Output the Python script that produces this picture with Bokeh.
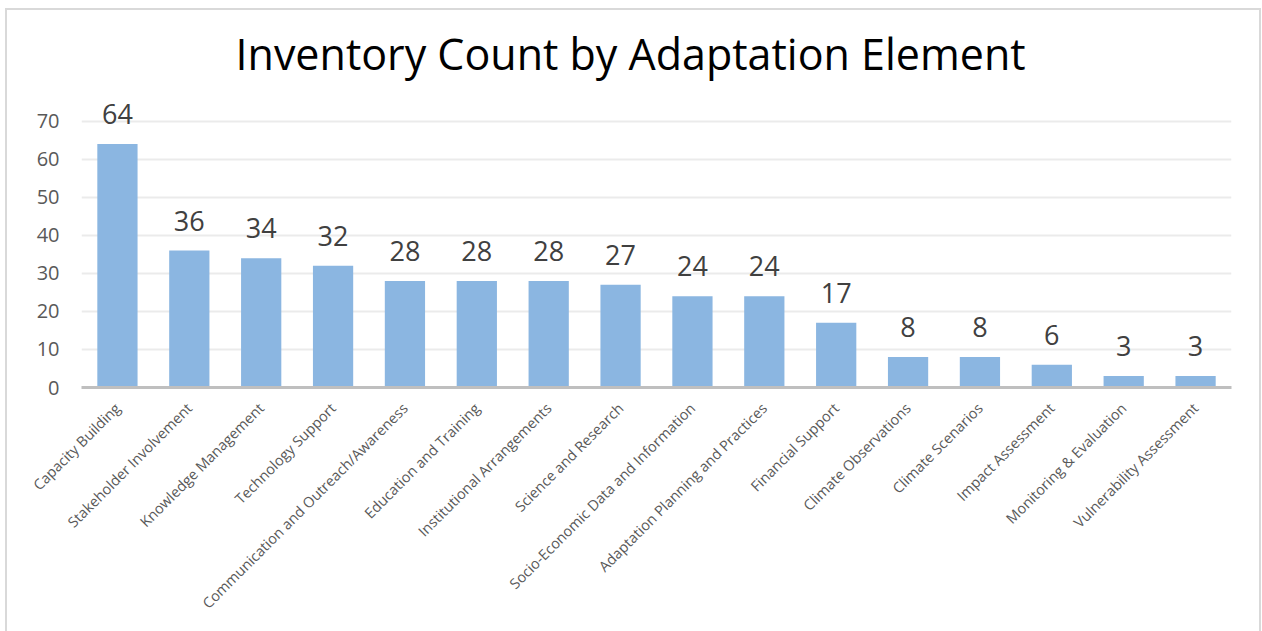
import math
from bokeh.plotting import figure
from bokeh.models import ColumnDataSource, LabelSet, Title
from bokeh.core.properties import value
from bokeh.embed import file_html
from bokeh.resources import INLINE

categories = [
    "Capacity Building", "Stakeholder Involvement", "Knowledge Management",
    "Technology Support", "Communication and Outreach/Awareness",
    "Education and Training", "Institutional Arrangements", "Science and Research",
    "Socio-Economic Data and Information", "Adaptation Planning and Practices",
    "Financial Support", "Climate Observations", "Climate Scenarios",
    "Impact Assessment", "Monitoring & Evaluation", "Vulnerability Assessment",
]
counts = [64, 36, 34, 32, 28, 28, 28, 27, 24, 24, 17, 8, 8, 6, 3, 3]
y_ticks = [0, 10, 20, 30, 40, 50, 60, 70]

FONT = "Open Sans"

src = ColumnDataSource(data=dict(cat=categories, n=counts, lbl=[str(c) for c in counts]))

p = figure(
    x_range=categories, y_range=(0, 77.3),
    width=1256, height=623,
    output_backend="svg", toolbar_location=None,
    min_border_left=74, min_border_right=32, min_border_top=82, min_border_bottom=246,
    background_fill_color="white", border_fill_color="white",
)
p.styles = {"margin-left": "5px", "margin-top": "8px",
            "border-left": "2px solid #D9D9D9", "border-top": "2px solid #D9D9D9",
            "border-right": "2px solid #D9D9D9", "box-sizing": "border-box"}
p.outline_line_color = None

p.title = Title(text="Inventory Count by Adaptation Element", align="left",
                text_font=FONT, text_font_size="43px", text_font_style="normal",
                text_color="#000000", offset=154, standoff=22)

p.vbar(x="cat", top="n", width=0.56, source=src, fill_color="#8BB6E1", line_color=None)

labels = LabelSet(x="cat", y="n", text="lbl", source=src, text_align="center",
                  text_baseline="alphabetic", y_offset=20, text_font=value(FONT),
                  text_font_size="27px", text_color="#404040")
p.add_layout(labels)

p.xgrid.grid_line_color = None
p.ygrid.grid_line_color = "#EBEBEB"
p.ygrid.grid_line_width = 2
p.yaxis.ticker = y_ticks
p.yaxis.axis_line_color = None
p.yaxis.major_tick_line_color = None
p.yaxis.minor_tick_line_color = None
p.yaxis.major_label_text_font = FONT
p.yaxis.major_label_text_font_size = "20px"
p.yaxis.major_label_text_color = "#595959"
p.yaxis.major_label_standoff = 16

p.xaxis.axis_line_color = "#BFBFBF"
p.xaxis.axis_line_width = 3
p.xaxis.major_tick_line_color = None
p.xaxis.minor_tick_line_color = None
p.xaxis.major_label_orientation = math.pi / 4
p.xaxis.major_label_text_font = FONT
p.xaxis.major_label_text_font_size = "14.5px"
p.xaxis.major_label_text_color = "#595959"
p.xaxis.major_label_standoff = 12
p.x_range.range_padding = 0

open("out.html", "w").write(file_html(p, INLINE))
